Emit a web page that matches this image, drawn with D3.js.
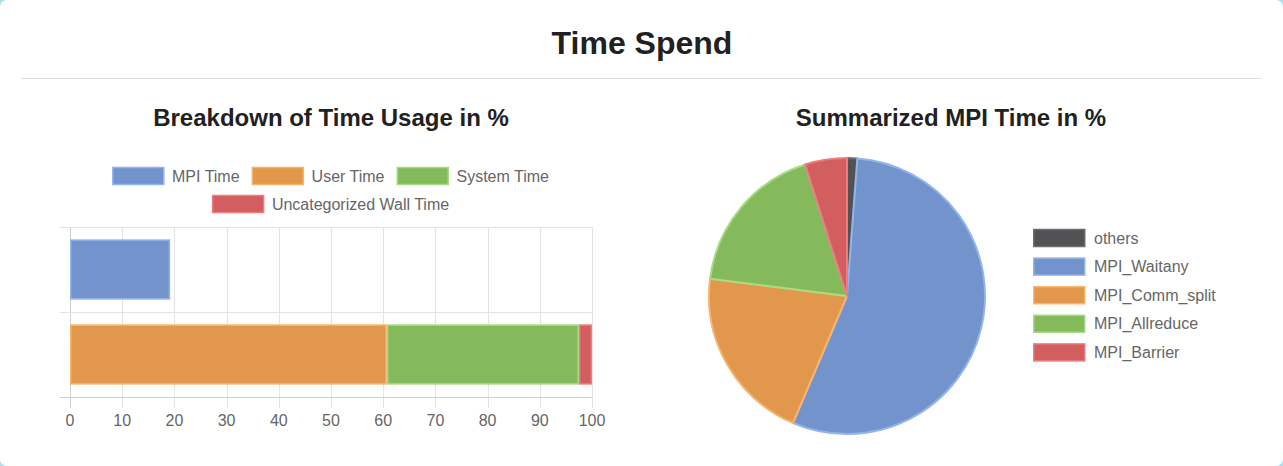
<!DOCTYPE html>
<html>
<head>
<meta charset="utf-8">
<script src="https://cdn.jsdelivr.net/npm/d3@7"></script>
<style>
  html, body { margin: 0; padding: 0; background: #b3dbe8; }
  #card { position: absolute; left: 0; top: 0; width: 1283px; height: 466px; background: #fff; border-radius: 7px; }
  svg { font-family: "Liberation Sans", Arial, Helvetica, sans-serif; }
</style>
</head>
<body>
<div id="card"></div>
<script>
const width = 1283, height = 466;

// bar chart data (percent)
const barRows = ['mpi', 'rest'];
const barSeries = ['MPI Time', 'User Time', 'System Time', 'Uncategorized Wall Time'];
const barValues = [
  [19.2, 0, 0, 0],
  [0, 60.7, 36.8, 2.5]
];
const xTicks = [0, 10, 20, 30, 40, 50, 60, 70, 80, 90, 100];

// pie data (percent)
const pieLabels = ['others', 'MPI_Waitany', 'MPI_Comm_split', 'MPI_Allreduce', 'MPI_Barrier'];
const pieValues = [1.2, 55.2, 20.6, 18.1, 4.9];

const fillColors = ['#7293cb', '#e1974c', '#84ba5b', '#d35e60'];
const lineColors = ['#94b5ec', '#f9b46e', '#a6dc84', '#ef7b7e'];
const pieFill = ['#535154', '#7293cb', '#e1974c', '#84ba5b', '#d35e60'];
const pieLine = ['#6e6c70', '#94b5ec', '#f9b46e', '#a6dc84', '#ef7b7e'];

const smallFont = '16px';

const svg = d3.select('#card').append('svg')
  .attr('width', width)
  .attr('height', height);

// main title + rule
svg.append('text')
  .attr('x', 642).attr('y', 54)
  .attr('text-anchor', 'middle')
  .style('font-size', '32px').style('font-weight', 'bold')
  .attr('fill', '#212121')
  .text('Time Spend');
svg.append('line')
  .attr('x1', 21).attr('x2', 1262).attr('y1', 78.5).attr('y2', 78.5)
  .attr('stroke', '#dedede');

// sub titles
svg.append('text')
  .attr('x', 331).attr('y', 126)
  .attr('text-anchor', 'middle')
  .style('font-size', '24px').style('font-weight', 'bold')
  .attr('fill', '#212121')
  .text('Breakdown of Time Usage in %');
svg.append('text')
  .attr('x', 951).attr('y', 126)
  .attr('text-anchor', 'middle')
  .style('font-size', '24px').style('font-weight', 'bold')
  .attr('fill', '#212121')
  .text('Summarized MPI Time in %');

// ---- bar chart ----
const x = d3.scaleLinear().domain([0, 100]).range([70, 592]);
const y = d3.scaleBand().domain(barRows).range([227, 397]).paddingInner(0.29).paddingOuter(0.145);

const grid = svg.append('g');
// vertical grid lines, extend below as ticks
grid.selectAll('line.v')
  .data(xTicks)
  .enter().append('line')
  .attr('x1', d => Math.round(x(d)) + 0.5).attr('x2', d => Math.round(x(d)) + 0.5)
  .attr('y1', 227).attr('y2', 408)
  .attr('stroke', d => d === 0 ? '#cfcfcf' : '#e4e4e4');
// horizontal grid lines at band boundaries
const yLines = [227, 312, 397];
grid.selectAll('line.h')
  .data(yLines)
  .enter().append('line')
  .attr('x1', 60).attr('x2', 592)
  .attr('y1', d => d + 0.5).attr('y2', d => d + 0.5)
  .attr('stroke', d => d === 397 ? '#cfcfcf' : '#e4e4e4');

// stacked bars
const stackData = barRows.map((r, i) => {
  const o = { row: r };
  barSeries.forEach((s, j) => { o[s] = barValues[i][j]; });
  return o;
});
const stacked = d3.stack().keys(barSeries)(stackData);
svg.append('g')
  .selectAll('g')
  .data(stacked)
  .enter().append('g')
  .attr('fill', (d, i) => fillColors[i])
  .attr('stroke', (d, i) => lineColors[i])
  .selectAll('rect')
  .data(d => d.filter(p => p[1] - p[0] > 0))
  .enter().append('rect')
  .attr('x', d => x(d[0]) + 0.75)
  .attr('width', d => x(d[1]) - x(d[0]) - 1.5)
  .attr('y', d => y(d.data.row) + 0.75)
  .attr('height', y.bandwidth() - 1.5)
  .attr('stroke-width', 1.5);

// x axis labels
svg.append('g')
  .selectAll('text')
  .data(xTicks)
  .enter().append('text')
  .attr('x', d => x(d)).attr('y', 426)
  .attr('text-anchor', 'middle')
  .style('font-size', smallFont)
  .attr('fill', '#666')
  .text(d => d);

// bar legend (two centered rows)
const legRows = [[0, 1, 2], [3]];
const legY = [176, 204];
legRows.forEach((row, ri) => {
  const g = svg.append('g');
  const items = row.map(i => {
    const t = g.append('text')
      .attr('y', legY[ri])
      .attr('dy', '0.35em')
      .style('font-size', smallFont)
      .attr('fill', '#666')
      .text(barSeries[i]);
    return { i, t, w: t.node().getComputedTextLength() };
  });
  const gap = 12;
  const total = d3.sum(items, d => 52 + 8 + d.w) + gap * (items.length - 1);
  let cx = 330.5 - total / 2;
  items.forEach(it => {
    g.insert('rect', 'text')
      .attr('x', cx + 0.75).attr('y', legY[ri] - 8.5)
      .attr('width', 51).attr('height', 17)
      .attr('fill', fillColors[it.i])
      .attr('stroke', lineColors[it.i])
      .attr('stroke-width', 1.5);
    it.t.attr('x', cx + 60);
    cx += 52 + 8 + it.w + gap;
  });
});

// ---- pie chart ----
const pie = d3.pie().sort(null).value(d => d)(pieValues);
const arc = d3.arc().innerRadius(0).outerRadius(138);
svg.append('g')
  .attr('transform', 'translate(847,296)')
  .selectAll('path')
  .data(pie)
  .enter().append('path')
  .attr('d', arc)
  .attr('fill', (d, i) => pieFill[i])
  .attr('stroke', (d, i) => pieLine[i])
  .attr('stroke-width', 2)
  .attr('stroke-linejoin', 'round');

// pie legend
const pl = svg.append('g')
  .selectAll('g')
  .data(pieLabels)
  .enter().append('g')
  .attr('transform', (d, i) => `translate(1033,${238 + i * 28.6})`);
pl.append('rect')
  .attr('x', 0.75).attr('y', -8.5)
  .attr('width', 51).attr('height', 17)
  .attr('fill', (d, i) => pieFill[i])
  .attr('stroke', (d, i) => pieLine[i])
  .attr('stroke-width', 1.5);
pl.append('text')
  .attr('x', 61).attr('dy', '0.35em')
  .style('font-size', smallFont)
  .attr('fill', '#666')
  .text(d => d);
</script>
</body>
</html>
